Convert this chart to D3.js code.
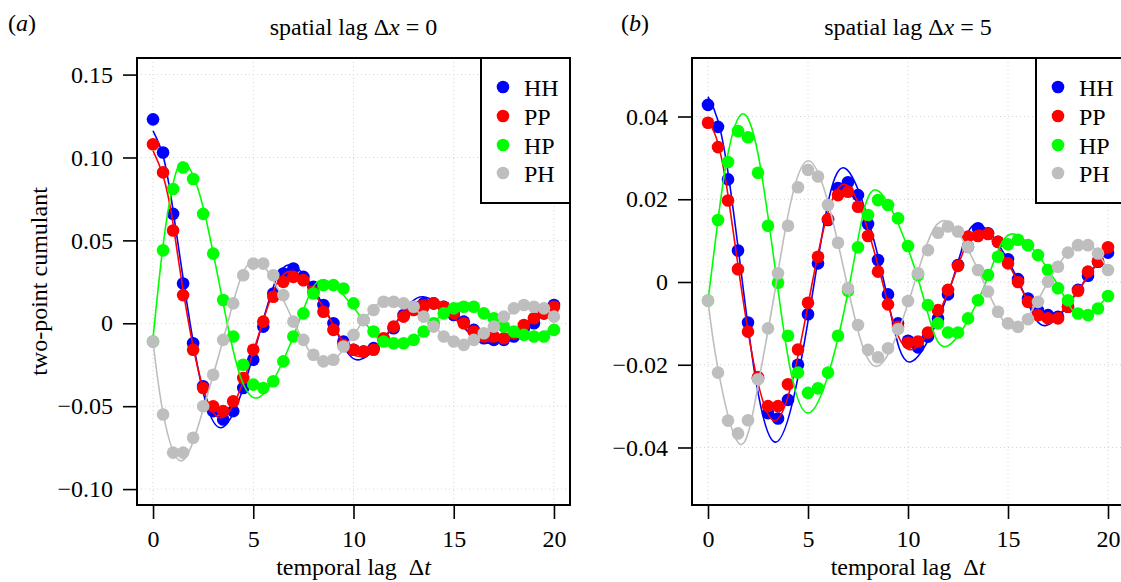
<!DOCTYPE html>
<html>
<head>
<meta charset="utf-8">
<script src="https://cdn.jsdelivr.net/npm/d3@7"></script>
<style>
  html, body { margin: 0; padding: 0; background: #fff; }
  svg { display: block; }
  text { font-family: "Liberation Serif", "Times New Roman", serif; fill: #000; }
</style>
</head>
<body>
<svg id="chart" width="1121" height="582"></svg>
<script>
// ---------------- data ----------------
const lags = [0,0.5,1,1.5,2,2.5,3,3.5,4,4.5,5,5.5,6,6.5,7,7.5,8,8.5,9,9.5,10,
              10.5,11,11.5,12,12.5,13,13.5,14,14.5,15,15.5,16,16.5,17,17.5,18,18.5,19,19.5,20];
const seriesNames = ["HH", "PP", "HP", "PH"];
const seriesColors = ["#0000ff", "#ff0000", "#00ff00", "#bebebe"];

// panel (a): spatial lag 0
const HH_a = [0.123,0.103,0.066,0.024,-0.012,-0.038,-0.053,-0.058,-0.053,-0.039,-0.022,-0.002,0.018,0.030,0.033,0.028,0.022,0.011,0.000,-0.011,-0.016,-0.017,-0.015,-0.010,-0.003,0.005,0.010,0.012,0.012,0.010,0.005,0.001,-0.004,-0.009,-0.010,-0.010,-0.008,-0.003,0.000,0.006,0.011];
const PP_a = [0.108,0.091,0.056,0.017,-0.016,-0.039,-0.050,-0.053,-0.047,-0.033,-0.016,0.001,0.016,0.025,0.028,0.026,0.019,0.007,-0.004,-0.013,-0.016,-0.017,-0.016,-0.009,-0.002,0.004,0.008,0.010,0.012,0.010,0.006,0.000,-0.005,-0.008,-0.008,-0.009,-0.006,-0.001,0.003,0.006,0.010];
const HP_a = [-0.011,0.044,0.081,0.094,0.087,0.066,0.042,0.014,-0.008,-0.025,-0.037,-0.039,-0.035,-0.023,-0.008,0.006,0.018,0.023,0.023,0.021,0.012,0.002,-0.005,-0.011,-0.012,-0.012,-0.010,-0.005,0.000,0.006,0.009,0.010,0.010,0.006,0.003,-0.002,-0.005,-0.007,-0.008,-0.008,-0.004];
const PH_a = [-0.011,-0.055,-0.078,-0.078,-0.069,-0.050,-0.031,-0.010,0.012,0.029,0.036,0.036,0.029,0.017,0.001,-0.010,-0.019,-0.023,-0.022,-0.014,-0.007,0.002,0.008,0.013,0.013,0.012,0.010,0.004,-0.002,-0.008,-0.011,-0.013,-0.010,-0.006,-0.002,0.004,0.009,0.011,0.010,0.009,0.004];

// fitted curves (a), read at extrema / zero crossings
const fitHH_a_t = [0,0.5,1,1.85,3.4,5.45,6.95,8.95,10.3,12.1,13.5,15.3,16.8,18.65,20];
const fitHH_a_v = [0.116,0.101,0.068,0,-0.063,0,0.035,0,-0.022,0,0.016,0,-0.012,0,0.010];
const fitPP_a_t = [0,0.5,1,1.78,3.4,5.45,7.0,8.95,10.35,12.1,13.6,15.3,16.9,18.65,20];
const fitPP_a_v = [0.104,0.089,0.060,0,-0.057,0,0.031,0,-0.020,0,0.014,0,-0.011,0,0.010];
const fitHP_a_t = [0,0.5,1,1.55,2.5,3.7,5.2,7.25,8.6,10.6,12.1,14.0,15.3,17.3,18.4,20];
const fitHP_a_v = [-0.009,0.047,0.084,0.097,0.070,0,-0.045,0,0.026,0,-0.014,0,0.012,0,-0.009,-0.003];
const fitPH_a_t = [0,0.5,1.4,2.5,3.72,5.1,7.05,8.7,10.4,12.0,13.85,15.4,17.15,18.8,20];
const fitPH_a_v = [-0.011,-0.054,-0.083,-0.052,0,0.038,0,-0.024,0,0.015,0,-0.012,0,0.011,0.005];

// panel (b): spatial lag 5
const HH_b = [0.0428,0.0375,0.0248,0.0076,-0.0098,-0.0233,-0.0317,-0.0330,-0.0285,-0.0200,-0.0078,0.0045,0.0150,0.0227,0.0241,0.0210,0.0140,0.0053,-0.0030,-0.0100,-0.0142,-0.0158,-0.0132,-0.0088,-0.0030,0.0041,0.0085,0.0130,0.0118,0.0097,0.0055,0.0007,-0.0040,-0.0069,-0.0080,-0.0084,-0.0060,-0.0019,0.0015,0.0049,0.0071];
const PP_b = [0.0385,0.0326,0.0197,0.0031,-0.0120,-0.0230,-0.0300,-0.0300,-0.0247,-0.0163,-0.0050,0.0061,0.0152,0.0210,0.0218,0.0182,0.0111,0.0025,-0.0054,-0.0108,-0.0147,-0.0144,-0.0122,-0.0068,-0.0019,0.0039,0.0110,0.0111,0.0116,0.0097,0.0045,0.0000,-0.0048,-0.0080,-0.0088,-0.0088,-0.0060,-0.0021,0.0025,0.0050,0.0084];
const HP_b = [-0.0045,0.0150,0.0290,0.0365,0.0350,0.0264,0.0136,-0.0002,-0.0130,-0.0219,-0.0268,-0.0257,-0.0219,-0.0130,-0.0021,0.0084,0.0162,0.0198,0.0186,0.0154,0.0087,0.0017,-0.0056,-0.0100,-0.0122,-0.0122,-0.0088,-0.0044,0.0017,0.0061,0.0091,0.0102,0.0089,0.0065,0.0029,-0.0015,-0.0044,-0.0076,-0.0080,-0.0064,-0.0034];
const PH_b = [-0.0045,-0.0219,-0.0335,-0.0366,-0.0334,-0.0235,-0.0112,0.0021,0.0136,0.0229,0.0271,0.0255,0.0186,0.0095,-0.0015,-0.0104,-0.0164,-0.0182,-0.0160,-0.0114,-0.0046,0.0021,0.0077,0.0119,0.0134,0.0122,0.0085,0.0029,-0.0023,-0.0072,-0.0100,-0.0108,-0.0090,-0.0048,0.0001,0.0037,0.0071,0.0089,0.0089,0.0069,0.0029];

const fitHH_b_t = [0,0.5,1,1.72,3.35,5.32,6.85,8.8,10.15,12.2,13.5,15.55,16.9,18.8,20];
const fitHH_b_v = [0.0448,0.0390,0.0265,0,-0.0387,0,0.0275,0,-0.0193,0,0.0140,0,-0.0105,0,0.0082];
const fitPP_b_t = [0,0.5,1,1.62,3.3,5.22,6.9,8.72,10.2,12.2,13.6,15.5,17.0,18.8,20];
const fitPP_b_v = [0.0390,0.0335,0.0210,0,-0.0335,0,0.0235,0,-0.0163,0,0.0125,0,-0.0095,0,0.0080];
const fitHP_b_t = [0,0.5,1,1.7,2.5,3.45,5.0,7.1,8.45,10.55,11.9,13.9,15.3,17.4,18.6,20];
const fitHP_b_v = [-0.0045,0.015,0.031,0.0406,0.031,0,-0.0317,0,0.0222,0,-0.0156,0,0.0116,0,-0.0082,-0.0035];
const fitPH_b_t = [0,0.5,1.6,2.5,3.42,5.0,6.93,8.5,10.34,11.85,13.78,15.35,17.0,18.7,20];
const fitPH_b_v = [-0.0045,-0.021,-0.0392,-0.025,0,0.0293,0,-0.0203,0,0.0148,0,-0.0112,0,0.0095,0.003];

// ticks
const xTicks = [0, 5, 10, 15, 20];
const yTicks_a = [-0.10, -0.05, 0, 0.05, 0.10, 0.15];
const yTickLabels_a = ["\u22120.10", "\u22120.05", "0", "0.05", "0.10", "0.15"];
const yTicks_b = [-0.04, -0.02, 0, 0.02, 0.04];
const yTickLabels_b = ["\u22120.04", "\u22120.02", "0", "0.02", "0.04"];

// ---------------- drawing ----------------
const svg = d3.select("#chart");
const FONT = 24;
const plotTop = 58, plotBottom = 505;

function drawPanel(cfg) {
  const x = d3.scaleLinear().domain([-0.8, 20.8]).range([cfg.left, cfg.right]);
  const y = d3.scaleLinear().domain(cfg.yDomain).range([plotBottom, plotTop]);
  const g = svg.append("g");
  const clipId = "clip" + cfg.id;
  svg.append("clipPath").attr("id", clipId).append("rect")
    .attr("x", cfg.left).attr("y", plotTop)
    .attr("width", cfg.right - cfg.left).attr("height", plotBottom - plotTop);

  // grid
  const grid = g.append("g").attr("stroke", "#d3d3d3").attr("stroke-width", 1)
    .attr("stroke-dasharray", "1,3");
  grid.selectAll("line.vx").data(xTicks).join("line")
    .attr("x1", d => x(d)).attr("x2", d => x(d)).attr("y1", plotTop).attr("y2", plotBottom);
  grid.selectAll("line.hy").data(cfg.yTicks).join("line")
    .attr("x1", cfg.left).attr("x2", cfg.right).attr("y1", d => y(d)).attr("y2", d => y(d));

  // series
  const plot = g.append("g").attr("clip-path", `url(#${clipId})`);
  cfg.series.forEach((s, i) => {
    const col = seriesColors[i];
    const pts = lags.map((t, k) => [t, s.values[k]]);
    plot.append("g").selectAll("circle").data(pts).join("circle")
      .attr("cx", d => x(d[0])).attr("cy", d => y(d[1])).attr("r", 6.3)
      .attr("fill", col);
    const fit = s.fitT.map((t, k) => [t, s.fitV[k]]);
    plot.append("path").datum(fit)
      .attr("fill", "none").attr("stroke", col).attr("stroke-width", 1.6)
      .attr("d", d3.line().x(d => x(d[0])).y(d => y(d[1])).curve(d3.curveNatural));
  });

  // axes
  const xa = g.append("g").attr("transform", `translate(0,${plotBottom})`)
    .call(d3.axisBottom(x).tickValues(xTicks).tickFormat(d3.format("d"))
      .tickSize(14).tickSizeOuter(0).tickPadding(11));
  xa.select(".domain").remove();
  xa.selectAll("line").attr("stroke", "#000").attr("stroke-width", 1.6);
  xa.selectAll("text").attr("font-size", FONT)
    .attr("font-family", "Liberation Serif, Times New Roman, serif").attr("fill", "#000");

  const ya = g.append("g").attr("transform", `translate(${cfg.left},0)`)
    .call(d3.axisLeft(y).tickValues(cfg.yTicks)
      .tickFormat((d, k) => cfg.yTickLabels[k])
      .tickSize(14).tickSizeOuter(0).tickPadding(10));
  ya.select(".domain").remove();
  ya.selectAll("line").attr("stroke", "#000").attr("stroke-width", 1.6);
  ya.selectAll("text").attr("font-size", FONT)
    .attr("font-family", "Liberation Serif, Times New Roman, serif").attr("fill", "#000");

  // box
  g.append("rect").attr("x", cfg.left).attr("y", plotTop)
    .attr("width", cfg.right - cfg.left).attr("height", plotBottom - plotTop)
    .attr("fill", "none").attr("stroke", "#000").attr("stroke-width", 2);

  // legend
  const lg = g.append("g");
  lg.append("rect").attr("x", cfg.legendX).attr("y", plotTop)
    .attr("width", cfg.right - cfg.legendX).attr("height", 145)
    .attr("fill", "#fff").attr("stroke", "#000").attr("stroke-width", 2);
  const rowY = [87, 116, 145, 173];
  seriesNames.forEach((nm, i) => {
    lg.append("circle").attr("cx", cfg.legendX + 22).attr("cy", rowY[i]).attr("r", 6.3)
      .attr("fill", seriesColors[i]);
    lg.append("text").attr("x", cfg.legendX + 43).attr("y", rowY[i] + 8.5)
      .attr("font-size", FONT).text(nm);
  });

  // title
  const cx = (cfg.left + cfg.right) / 2;
  const tt = g.append("text").attr("x", cx).attr("y", 35).attr("text-anchor", "middle")
    .attr("font-size", FONT);
  tt.append("tspan").text("spatial lag \u0394");
  tt.append("tspan").attr("font-style", "italic").text("x");
  tt.append("tspan").text(" = " + cfg.dx);

  // panel label
  const pl = g.append("text").attr("x", cfg.labelX).attr("y", 31).attr("font-size", FONT);
  pl.append("tspan").text("(");
  pl.append("tspan").attr("font-style", "italic").text(cfg.letter);
  pl.append("tspan").text(")");

  // x axis title
  const xt = g.append("text").attr("x", x(10)).attr("y", 575).attr("text-anchor", "middle")
    .attr("font-size", FONT);
  xt.append("tspan").text("temporal lag");
  xt.append("tspan").attr("dx", 12).text("\u0394");
  xt.append("tspan").attr("font-style", "italic").text("t");

  if (cfg.yTitle) {
    g.append("text").attr("transform", `translate(47,${(plotTop + plotBottom) / 2}) rotate(-90)`)
      .attr("text-anchor", "middle").attr("font-size", FONT).text(cfg.yTitle);
  }
}

drawPanel({
  id: "a", letter: "a", labelX: 8, dx: "0", left: 137, right: 570,
  yDomain: [-0.1096, 0.1600], yTicks: yTicks_a, yTickLabels: yTickLabels_a,
  legendX: 481, yTitle: "two-point cumulant",
  series: [
    { values: HH_a, fitT: fitHH_a_t, fitV: fitHH_a_v },
    { values: PP_a, fitT: fitPP_a_t, fitV: fitPP_a_v },
    { values: HP_a, fitT: fitHP_a_t, fitV: fitHP_a_v },
    { values: PH_a, fitT: fitPH_a_t, fitV: fitPH_a_v }
  ]
});
drawPanel({
  id: "b", letter: "b", labelX: 621, dx: "5", left: 692, right: 1124,
  yDomain: [-0.0539, 0.05414], yTicks: yTicks_b, yTickLabels: yTickLabels_b,
  legendX: 1036, yTitle: null,
  series: [
    { values: HH_b, fitT: fitHH_b_t, fitV: fitHH_b_v },
    { values: PP_b, fitT: fitPP_b_t, fitV: fitPP_b_v },
    { values: HP_b, fitT: fitHP_b_t, fitV: fitHP_b_v },
    { values: PH_b, fitT: fitPH_b_t, fitV: fitPH_b_v }
  ]
});
</script>
</body>
</html>
